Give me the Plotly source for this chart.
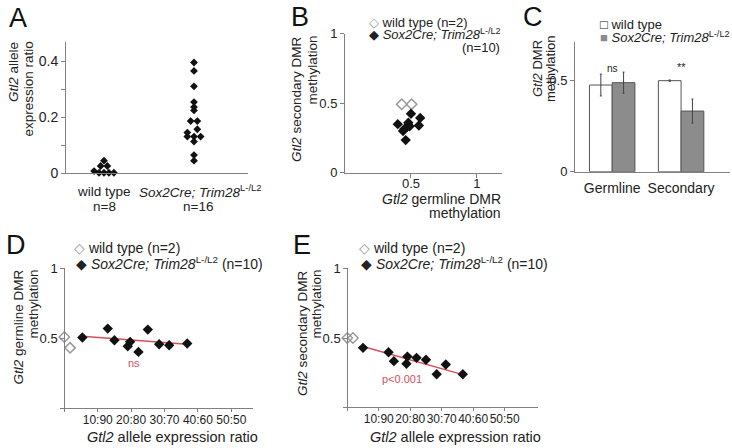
import plotly.graph_objects as go

W, H = 732, 448

# --- panel A: Gtl2 allele expression ratio (beeswarm)
wt_ratio = [0.045, 0.026, 0.026, 0.008, 0.002, 0.002, 0.002, 0.002]
wt_ratio_jitter = [0.0, -0.037, 0.037, -0.11, -0.055, 0.0, 0.055, 0.11]
mut_ratio = [0.395, 0.365, 0.31, 0.254, 0.236, 0.224, 0.186, 0.186,
             0.157, 0.145, 0.131, 0.131, 0.131, 0.113, 0.065, 0.045]
mut_ratio_jitter = [0, 0, 0, 0, 0, 0, -0.037, 0.037,
                    0.037, -0.074, -0.074, 0.0, 0.074, 0, 0, 0]

# --- panel B: germline vs secondary DMR methylation
b_wt_germ = [0.43, 0.505]
b_wt_sec = [0.493, 0.493]
b_mut_germ = [0.50, 0.57, 0.40, 0.48, 0.49, 0.56, 0.45, 0.44, 0.47, 0.46]
b_mut_sec = [0.425, 0.395, 0.35, 0.36, 0.335, 0.34, 0.315, 0.30, 0.33, 0.235]

# --- panel C: mean methylation
c_regions = ['Germline', 'Secondary']
c_wt_mean = [0.476, 0.50]
c_wt_err = [0.06, 0.004]
c_mut_mean = [0.489, 0.333]
c_mut_err = [0.058, 0.066]

# --- panel D: germline DMR vs expression ratio
d_wt_x = [0.0, 0.017]
d_wt_y = [0.511, 0.433]
d_mut_x = [0.054, 0.13, 0.15, 0.19, 0.197, 0.222, 0.25, 0.284, 0.314, 0.368]
d_mut_y = [0.507, 0.571, 0.488, 0.445, 0.476, 0.404, 0.564, 0.459, 0.452, 0.464]
d_fit_x = [0.054, 0.368]
d_fit_y = [0.517, 0.459]

# --- panel E: secondary DMR vs expression ratio
e_wt_x = [0.0, 0.018]
e_wt_y = [0.5, 0.5]
e_mut_x = [0.05, 0.131, 0.148, 0.191, 0.188, 0.22, 0.25, 0.284, 0.313, 0.367]
e_mut_y = [0.429, 0.397, 0.333, 0.366, 0.314, 0.357, 0.343, 0.238, 0.309, 0.238]
e_fit_x = [0.047, 0.37]
e_fit_y = [0.44, 0.234]

ratio_ticks = [0, 0.1, 0.2, 0.3, 0.4, 0.5]
ratio_labels = ['', '10:90', '20:80', '30:70', '40:60', '50:50']

FONT = 'Liberation Sans, Arial, sans-serif'
AXC = '#808080'
TXT = '#222222'
RED = '#d5505c'


def px(x):
    return x / W


def py(y):
    return 1 - y / H


fig = go.Figure()

# A
fig.add_trace(go.Scatter(x=[1 + j for j in wt_ratio_jitter], y=wt_ratio, mode='markers',
                         marker=dict(symbol='diamond', size=6, color='#111'),
                         xaxis='x', yaxis='y', cliponaxis=False))
fig.add_trace(go.Scatter(x=[2 + j for j in mut_ratio_jitter], y=mut_ratio, mode='markers',
                         marker=dict(symbol='diamond', size=6, color='#111'),
                         xaxis='x', yaxis='y', cliponaxis=False))

# B
fig.add_trace(go.Scatter(x=b_wt_germ, y=b_wt_sec, mode='markers',
                         marker=dict(symbol='diamond-open', size=8, color='#999', line=dict(width=1.5)),
                         xaxis='x2', yaxis='y2'))
fig.add_trace(go.Scatter(x=b_mut_germ, y=b_mut_sec, mode='markers',
                         marker=dict(symbol='diamond', size=8, color='#111'),
                         xaxis='x2', yaxis='y2'))

# C
fig.add_trace(go.Bar(x=c_regions, y=c_wt_mean, marker=dict(color='white', line=dict(color='#555', width=1)),
                     error_y=dict(type='data', array=c_wt_err, color='#444', thickness=1, width=1),
                     xaxis='x3', yaxis='y3'))
fig.add_trace(go.Bar(x=c_regions, y=c_mut_mean, marker=dict(color='#8c8c8c', line=dict(color='#555', width=1)),
                     error_y=dict(type='data', array=c_mut_err, color='#444', thickness=1, width=1),
                     xaxis='x3', yaxis='y3'))

# D
fig.add_trace(go.Scatter(x=d_fit_x, y=d_fit_y, mode='lines', line=dict(color=RED, width=1.5),
                         xaxis='x4', yaxis='y4'))
fig.add_trace(go.Scatter(x=d_wt_x, y=d_wt_y, mode='markers', cliponaxis=False,
                         marker=dict(symbol='diamond-open', size=8, color='#999', line=dict(width=1.5)),
                         xaxis='x4', yaxis='y4'))
fig.add_trace(go.Scatter(x=d_mut_x, y=d_mut_y, mode='markers',
                         marker=dict(symbol='diamond', size=8, color='#111'),
                         xaxis='x4', yaxis='y4'))

# E
fig.add_trace(go.Scatter(x=e_fit_x, y=e_fit_y, mode='lines', line=dict(color=RED, width=1.5),
                         xaxis='x5', yaxis='y5'))
fig.add_trace(go.Scatter(x=e_wt_x, y=e_wt_y, mode='markers', cliponaxis=False,
                         marker=dict(symbol='diamond-open', size=8, color='#999', line=dict(width=1.5)),
                         xaxis='x5', yaxis='y5'))
fig.add_trace(go.Scatter(x=e_mut_x, y=e_mut_y, mode='markers',
                         marker=dict(symbol='diamond', size=8, color='#111'),
                         xaxis='x5', yaxis='y5'))

axis_common = dict(showline=True, linecolor=AXC, linewidth=1, showgrid=False, zeroline=False,
                   ticks='outside', ticklen=4, tickcolor=AXC, automargin=False, tickangle=0,
                   tickfont=dict(family=FONT, size=12, color=TXT))

fig.update_layout(
    template='none',
    width=W, height=H,
    margin=dict(l=0, r=0, t=0, b=0, pad=0),
    paper_bgcolor='white', plot_bgcolor='white',
    showlegend=False,
    barmode='group', bargap=0.34, bargroupgap=0,
    font=dict(family=FONT, color=TXT),
    xaxis=dict(axis_common, domain=[px(66), px(248)], range=[0.578, 2.6], anchor='y',
               ticks='', showticklabels=False),
    yaxis=dict(axis_common, domain=[py(173.3), py(42)], range=[0, 0.468], anchor='x',
               tickvals=[0, 0.1, 0.2, 0.3, 0.4], ticktext=['0', '', '0.2', '', '0.4'],
               tickfont=dict(family=FONT, size=14, color=TXT)),
    xaxis2=dict(axis_common, domain=[px(345), px(502)], range=[0, 1.19], anchor='y2',
                ticklabelstandoff=-5,
                tickvals=[0.5, 1], ticktext=['0.5', '1'], tickfont=dict(family=FONT, size=13, color=TXT)),
    yaxis2=dict(axis_common, domain=[py(172.7), py(33.5)], range=[0, 1.003], anchor='x2',
                tickvals=[0, 0.5, 1], ticktext=['0', '0.5', '1'], tickfont=dict(family=FONT, size=13, color=TXT)),
    xaxis3=dict(axis_common, domain=[px(575), px(730)], range=[-0.54, 1.71], anchor='y3',
                ticks='', ticklabelstandoff=3, tickfont=dict(family=FONT, size=14, color=TXT)),
    yaxis3=dict(axis_common, domain=[py(171.7), py(41.7)], range=[0, 0.714], anchor='x3',
                tickvals=[0, 0.5], ticktext=['0', '0.5'], tickfont=dict(family=FONT, size=13, color=TXT)),
    xaxis4=dict(axis_common, domain=[px(60), px(253)], range=[-0.013, 0.565], anchor='y4',
                ticklen=3, ticklabelstandoff=-3, tickvals=ratio_ticks, ticktext=ratio_labels),
    yaxis4=dict(axis_common, domain=[py(408.3), py(268.3)], range=[0, 1.003], anchor='free',
                position=px(64.3), tickvals=[0, 0.5, 1], ticktext=['', '0.5', '1'],
                tickfont=dict(family=FONT, size=13, color=TXT)),
    xaxis5=dict(axis_common, domain=[px(343.3), px(537.7)], range=[-0.0127, 0.605], anchor='y5',
                ticklen=3, ticklabelstandoff=-3, tickvals=ratio_ticks, ticktext=ratio_labels),
    yaxis5=dict(axis_common, domain=[py(407.3), py(268.3)], range=[0, 1.003], anchor='free',
                position=px(347.3), tickvals=[0, 0.5, 1], ticktext=['', '0.5', '1'],
                tickfont=dict(family=FONT, size=13, color=TXT)),
)

SOX = '<i>Sox2Cre; Trim28</i><sup>L-/L2</sup>'
WT_SYM = "<span style='color:#999'>◇</span>"
MUT_SYM = '◆'


def note(text, x, y, size=13.5, xanchor='center', yanchor='middle', angle=0, color=TXT):
    fig.add_annotation(text=text, x=px(x), y=py(y), xref='paper', yref='paper',
                       xanchor=xanchor, yanchor=yanchor, textangle=angle, showarrow=False,
                       font=dict(family=FONT, size=size, color=color))


# panel letters
for letter, lx, ly in [('A', 18, 18), ('B', 300, 17), ('C', 533, 17), ('D', 16, 245), ('E', 302, 245)]:
    note(letter, lx, ly, size=27, color='#111')

# A texts
note('wild type', 104, 191)
note('n=8', 104, 206)
note(SOX, 200, 191)
note('n=16', 198, 206)
note('<i>Gtl2</i> allele', 13, 40, yanchor='top', angle=-90)
note('expression ratio', 28, 40, yanchor='top', angle=-90)

# B texts
note(WT_SYM + ' wild type (n=2)', 367, 22, size=13, xanchor='left')
note(MUT_SYM + ' ' + SOX, 367, 34, size=13, xanchor='left')
note('(n=10)', 502, 47, size=13, xanchor='right')
note('<i>Gtl2</i> secondary DMR', 297, 34, yanchor='top', angle=-90)
note('methylation', 312, 34, yanchor='top', angle=-90)
note('<i>Gtl2</i> germline DMR', 503, 199, size=14, xanchor='right')
note('methylation', 503, 213, size=14, xanchor='right')

# C texts
note('□ wild type', 598, 25, size=13, xanchor='left')
note("<span style='color:#8c8c8c'>■</span> " + SOX, 598, 37, size=13, xanchor='left')
note('<i>Gtl2</i> DMR', 537, 69, size=13, angle=-90)
note('methylation', 550, 69, size=13, angle=-90)
note('ns', 612, 68, size=10)
note('**', 681, 67, size=11)

# D texts
note(WT_SYM + ' wild type (n=2)', 72, 248, size=14, xanchor='left')
note(MUT_SYM + ' ' + SOX + ' (n=10)', 74, 263, size=14, xanchor='left')
note('<i>Gtl2</i> germline DMR', 18, 268, yanchor='top', angle=-90)
note('methylation', 33, 268, yanchor='top', angle=-90)
note('<i>Gtl2</i> allele expression ratio', 172, 437, size=14.5)
note('ns', 134, 363, size=11, color=RED)

# E texts
note(WT_SYM + ' wild type (n=2)', 357, 248, size=14, xanchor='left')
note(MUT_SYM + ' ' + SOX + ' (n=10)', 359, 263, size=14, xanchor='left')
note('<i>Gtl2</i> secondary DMR', 302, 268, yanchor='top', angle=-90)
note('methylation', 316, 268, yanchor='top', angle=-90)
note('<i>Gtl2</i> allele expression ratio', 455, 437, size=14.5)
note('p&lt;0.001', 402, 379, size=11, color=RED)

# the page keeps the browser's 8px body margin otherwise
fig.write_html('out.html', config={'displayModeBar': False},
               post_script="document.body.style.margin='0';")
